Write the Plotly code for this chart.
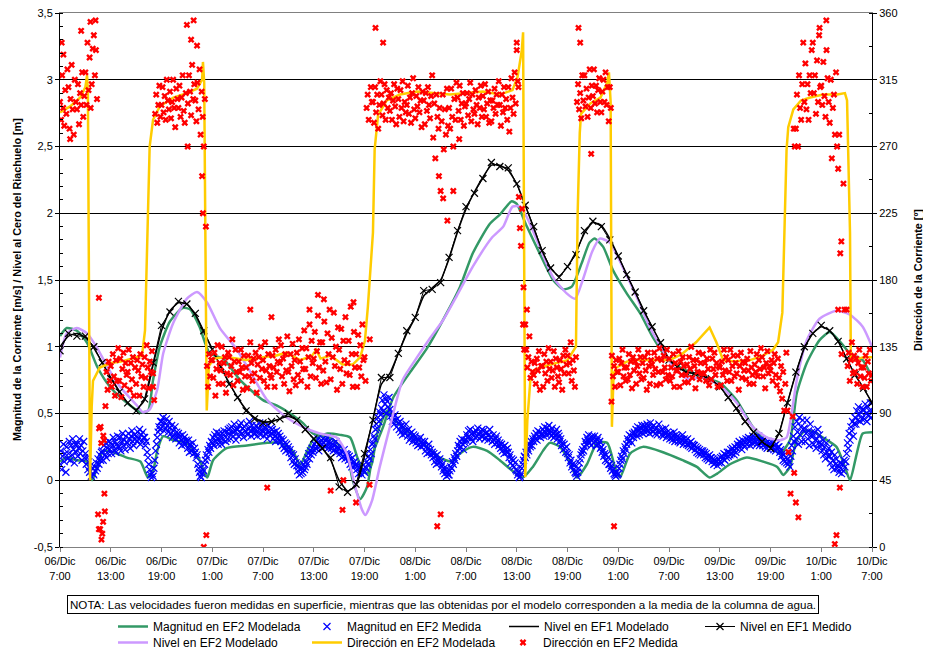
import numpy as np
import plotly.graph_objects as go

# ---------------- axis labels ----------------
x_tick_hours = list(range(0, 97, 6))
x_tick_text = ["06/Dic<br>7:00", "06/Dic<br>13:00", "06/Dic<br>19:00", "07/Dic<br>1:00",
               "07/Dic<br>7:00", "07/Dic<br>13:00", "07/Dic<br>19:00", "08/Dic<br>1:00",
               "08/Dic<br>7:00", "08/Dic<br>13:00", "08/Dic<br>19:00", "09/Dic<br>1:00",
               "09/Dic<br>7:00", "09/Dic<br>13:00", "09/Dic<br>19:00", "10/Dic<br>1:00",
               "10/Dic<br>7:00"]
left_tick_vals = [-0.5, 0, 0.5, 1, 1.5, 2, 2.5, 3, 3.5]
left_tick_text = ["-0,5", "0", "0,5", "1", "1,5", "2", "2,5", "3", "3,5"]
right_tick_vals = [0, 45, 90, 135, 180, 225, 270, 315, 360]

# ---------------- Nivel en EF1 (hourly, from 06/Dic 7:00) ----------------
nivel_ef1_med = [0.97, 1.10, 1.08, 1.08, 1.00, 0.88, 0.76, 0.66, 0.58, 0.52,
                 0.61, 0.88, 1.16, 1.26, 1.34, 1.32, 1.25, 1.12, 0.98, 0.85,
                 0.72, 0.62, 0.52, 0.46, 0.43, 0.44, 0.46, 0.50, 0.45, 0.38,
                 0.31, 0.24, 0.17, -0.05, -0.09, -0.03, 0.20, 0.45, 0.77, 0.77,
                 0.95, 1.12, 1.22, 1.42, 1.43, 1.48, 1.67, 1.87, 2.05, 2.15,
                 2.26, 2.38, 2.35, 2.34, 2.22, 2.06, 1.90, 1.72, 1.59, 1.52,
                 1.60, 1.69, 1.87, 1.94, 1.90, 1.80, 1.68, 1.54, 1.41, 1.27,
                 1.15, 1.03, 0.90, 0.85, 0.81, 0.80, 0.79, 0.76, 0.70, 0.62,
                 0.54, 0.44, 0.36, 0.29, 0.24, 0.35, 0.58, 0.81, 1.00, 1.10,
                 1.16, 1.12, 1.04, 0.91, 0.79, 0.69, 0.58]
nivel_ef1_mod = [1.00, 1.08, 1.10, 1.07, 0.99, 0.88, 0.77, 0.67, 0.58, 0.53,
                 0.60, 0.86, 1.12, 1.27, 1.33, 1.32, 1.24, 1.11, 0.98, 0.85,
                 0.73, 0.62, 0.53, 0.47, 0.44, 0.44, 0.46, 0.48, 0.45, 0.38,
                 0.31, 0.24, 0.15, 0.00, -0.08, -0.04, 0.18, 0.46, 0.72, 0.80,
                 0.95, 1.10, 1.22, 1.38, 1.44, 1.50, 1.66, 1.86, 2.03, 2.16,
                 2.27, 2.36, 2.36, 2.32, 2.22, 2.06, 1.89, 1.72, 1.59, 1.53,
                 1.60, 1.71, 1.85, 1.93, 1.91, 1.81, 1.68, 1.54, 1.41, 1.27,
                 1.15, 1.03, 0.91, 0.85, 0.81, 0.80, 0.78, 0.75, 0.70, 0.62,
                 0.53, 0.44, 0.36, 0.29, 0.25, 0.35, 0.58, 0.80, 0.99, 1.10,
                 1.15, 1.12, 1.04, 0.91, 0.79, 0.69, 0.58]
nivel_ef1_hours = list(range(len(nivel_ef1_med)))

# ---------------- Nivel en EF2 Modelado ----------------
nivel_ef2_t = [0, 0.8, 2, 3.2, 4.4, 5.6, 7.1, 9.1, 9.8, 10.6, 11.5, 12.2, 13.4, 15, 16.2,
               17.4, 18.9, 20.9, 22.7, 24.5, 26.8, 28.7, 30.7, 32.7, 33.9, 34.9, 35.7, 36.1,
               36.9, 37.8, 39, 40.5, 42.2, 43.7, 45.3, 46.9, 48.8, 51.1, 52.4, 53.5, 54.4,
               55.2, 56.7, 58.3, 59.9, 60.9, 61.8, 62.9, 63.8, 65, 66.5, 68.2, 69.7, 71.3,
               72.5, 74.1, 76, 78, 80, 81.9, 83.6, 85.1, 85.9, 86.5, 87.1, 88.3, 89.8, 91.8,
               93.4, 94.9, 96]
nivel_ef2_v = [0.92, 1.10, 1.14, 1.10, 0.99, 0.85, 0.70, 0.56, 0.51, 0.53, 0.68, 0.95, 1.18,
               1.36, 1.41, 1.33, 1.14, 0.98, 0.79, 0.60, 0.47, 0.40, 0.35, 0.32, 0.20, -0.05,
               -0.22, -0.26, -0.15, 0.10, 0.40, 0.75, 0.92, 1.06, 1.20, 1.38, 1.60, 1.82,
               1.90, 2.05, 2.05, 1.97, 1.75, 1.52, 1.40, 1.36, 1.50, 1.71, 1.81, 1.78, 1.60,
               1.37, 1.15, 0.97, 0.85, 0.76, 0.77, 0.71, 0.58, 0.40, 0.32, 0.30, 0.32, 0.50,
               0.75, 1.05, 1.21, 1.27, 1.24, 1.15, 1.00]

# ---------------- Magnitud en EF2 Modelada (green) ----------------
mag_mod_t = [0, 0.8, 2, 3.2, 3.8, 4.4, 5.1, 6.3, 7.9, 9.5, 10.4, 11, 11.5, 12.2, 13.4, 15,
             16.5, 17.4, 18.1, 19.7, 22.1, 24.5, 26, 27.5, 28.4, 29.9, 31.6, 33.1, 34.3,
             35.1, 35.8, 36.3, 36.9, 37.5, 38.7, 39.6, 41, 43.4, 44.9, 46.3, 47.3, 48.8,
             50.5, 52, 53.5, 54.7, 55.9, 57.1, 57.9, 59.1, 60.3, 61.1, 62.3, 63.5, 64.7,
             65.6, 66.2, 67.4, 68.9, 71.3, 73.6, 75.3, 76.8, 77.7, 79.2, 81.2, 83.1, 84.8,
             85.5, 86.3, 87.1, 88.1, 89.2, 90.2, 91.8, 92.8, 93.4, 94.2, 94.9, 96]
mag_mod_v = [0.14, 0.17, 0.15, 0.14, 0.00, 0.10, 0.22, 0.21, 0.17, 0.14, 0.02, 0.07, 0.22,
             0.33, 0.30, 0.28, 0.15, 0.02, 0.15, 0.24, 0.26, 0.28, 0.28, 0.22, 0.12, 0.30,
             0.35, 0.34, 0.32, 0.18, 0.07, 0.05, 0.13, 0.35, 0.52, 0.45, 0.37, 0.25, 0.17,
             0.14, 0.20, 0.25, 0.22, 0.15, 0.07, 0.02, 0.10, 0.22, 0.28, 0.25, 0.13, 0.02,
             0.12, 0.28, 0.28, 0.10, 0.02, 0.20, 0.25, 0.21, 0.15, 0.10, 0.02, 0.05, 0.12,
             0.17, 0.14, 0.10, 0.04, 0.10, 0.30, 0.37, 0.36, 0.32, 0.25, 0.10, 0.00, 0.20,
             0.35, 0.36]

# second green curve (follows the level)
green_lvl_t = [0, 0.8, 2, 3.2, 4.4, 5.9, 7.9, 9.5, 10.4, 11, 11.8, 13, 14.5, 15.4, 16.5,
               17.7, 19.3, 21.3, 24, 25.6, 27.2, 28.7, 29.9, 31.9, 33.9, 34.6, 35.5, 36.3,
               37, 38.2, 39.4, 41.4, 43.4, 45.7, 47.3, 48.8, 50.8, 52, 53.4, 54, 55.2, 56.7,
               58.3, 59.5, 60.5, 61.7, 62.6, 63.2, 64.2, 65.4, 67, 68.6, 70.1, 71.7, 72.9,
               74.5, 76, 78, 80, 81.9, 83.6, 85.1, 86.3, 87.1, 88.3, 89.8, 91, 92.2, 93.4,
               94.9, 96]
green_lvl_v = [1.08, 1.14, 1.12, 1.03, 0.85, 0.70, 0.58, 0.51, 0.52, 0.75, 1.00, 1.19, 1.29,
               1.28, 1.15, 0.95, 0.91, 0.75, 0.60, 0.56, 0.50, 0.43, 0.35, 0.32, 0.20, 0.00,
               -0.14, -0.05, 0.20, 0.40, 0.62, 0.81, 0.99, 1.25, 1.45, 1.70, 1.92, 1.99, 2.09,
               2.07, 1.90, 1.70, 1.50, 1.43, 1.45, 1.63, 1.78, 1.81, 1.75, 1.57, 1.40, 1.25,
               1.07, 0.92, 0.86, 0.81, 0.77, 0.73, 0.60, 0.40, 0.28, 0.20, 0.30, 0.65, 0.88,
               1.05, 1.11, 1.04, 0.95, 0.90, 0.77]

# ---------------- Dirección en EF2 Modelada (deg) ----------------
dir_mod_t = [0, 1.2, 2.4, 3.0, 3.2, 3.3, 3.45, 3.55, 3.75, 3.9, 4.7, 6, 7.2, 8.6, 9.7, 10.05,
             10.3, 10.6, 11.0, 11.8, 13.4, 15.0, 16.2, 16.8, 16.9, 17.05, 17.2, 17.35, 17.6,
             18.2, 19.7, 22, 24, 25.5, 26.7, 28.4, 29.8, 30.3, 30.8, 32, 33.4, 34.6, 35.5,
             36.05, 36.4, 36.8, 37.0, 37.2, 37.6, 38.6, 40.2, 42.2, 44.1, 46.1, 48.1, 50.0,
             52.0, 53.5, 54.1, 54.6, 54.75, 54.85, 55.0, 55.25, 55.6, 56.0, 56.8, 58, 60,
             61.0, 61.2, 61.45, 61.6, 62.7, 63.9, 64.7, 64.9, 65.1, 65.25, 65.45, 65.8, 67,
             68.2, 70, 72.1, 73.5, 75.2, 76.8, 77.6, 78.4, 79.6, 81.6, 83.1, 84.3, 84.9,
             85.4, 85.5, 85.6, 85.9, 86.1, 86.7, 87.6, 88.7, 90.2, 91.9, 92.8, 93.05, 93.4,
             93.5, 93.8, 95, 96]
dir_mod_v = [293, 297, 303, 310, 318, 305, 150, 45, 95, 112, 121, 124, 125, 127, 129, 146,
             200, 270, 288, 297, 303, 306, 309, 315, 327, 313, 200, 92, 122,
             127, 128, 126, 128, 129, 131, 126, 129, 133, 127, 129, 123, 123, 128,
             139, 162, 196, 212, 268, 291, 301, 305, 307, 306, 305, 306, 307,
             305, 308, 317, 335, 347, 256, 47, 85, 112, 119, 121, 123, 126,
             135, 225, 279, 292, 299, 303, 313, 320, 300, 81, 117, 121, 125,
             126, 126, 126, 130, 138, 148, 138, 126, 125, 126, 129, 133, 138,
             158, 180, 212, 268, 283, 295, 301, 303, 305, 305, 306, 301, 212,
             126, 126, 128, 128]

# ---------------- Magnitud en EF2 Medida (m/s, every 6 min; one row per hour) ----------------
mag_med_rows = [
    [.12, .22, .08, .18, .27, .14, .20, .06, .25, .16],
    [.20, .29, .15, .26, .19, .31, .23, .13, .27, .21],
    [.27, .18, .24, .31, .20, .26, .15, .22, .29, .17],
    [.20, .12, .17, .08, .14, .06, .11, .03, .09, .05],
    [.04, .10, .07, .13, .09, .16, .12, .19, .15, .21],
    [.22, .15, .26, .19, .28, .17, .24, .20, .29, .23],
    [.28, .20, .26, .32, .23, .29, .21, .27, .33, .25],
    [.25, .32, .22, .29, .35, .26, .30, .23, .33, .28],
    [.28, .35, .31, .24, .33, .37, .29, .26, .34, .31],
    [.33, .29, .36, .31, .38, .27, .34, .30, .36, .32],
    [.32, .26, .29, .21, .17, .12, .08, .04, .02, .05],
    [.03, .09, .15, .22, .27, .32, .36, .40, .38, .44],
    [.44, .40, .47, .37, .43, .39, .46, .41, .36, .44],
    [.39, .35, .41, .32, .37, .34, .40, .31, .36, .33],
    [.35, .28, .33, .30, .26, .34, .29, .32, .27, .30],
    [.29, .24, .30, .21, .27, .25, .22, .28, .20, .24],
    [.21, .17, .19, .12, .09, .06, .03, .02, .05, .08],
    [.07, .12, .15, .19, .17, .23, .21, .26, .24, .29],
    [.28, .32, .26, .34, .29, .36, .31, .27, .35, .30],
    [.32, .27, .35, .30, .37, .33, .29, .36, .31, .38],
    [.35, .39, .31, .40, .36, .33, .42, .37, .30, .38],
    [.38, .33, .41, .36, .43, .35, .39, .32, .40, .37],
    [.36, .42, .34, .39, .44, .37, .33, .41, .38, .35],
    [.38, .35, .41, .33, .39, .36, .43, .34, .40, .37],
    [.37, .33, .40, .35, .38, .31, .41, .36, .34, .39],
    [.35, .38, .31, .36, .33, .29, .37, .32, .35, .30],
    [.33, .29, .31, .26, .30, .24, .28, .22, .27, .23],
    [.25, .21, .23, .17, .20, .14, .19, .12, .16, .13],
    [.11, .07, .10, .04, .08, .05, .09, .06, .12, .08],
    [.10, .14, .12, .17, .20, .16, .22, .19, .24, .21],
    [.23, .27, .24, .29, .25, .31, .22, .28, .26, .30],
    [.27, .31, .28, .25, .30, .26, .32, .24, .29, .27],
    [.28, .24, .27, .22, .26, .23, .29, .21, .25, .24],
    [.24, .20, .22, .17, .21, .18, .23, .16, .20, .19],
    [.19, .15, .18, .12, .16, .10, .17, .13, .14, .11],
    [.12, .08, .11, .05, .09, .06, .10, .04, .08, .07],
    [.06, .10, .09, .14, .12, .18, .16, .23, .20, .27],
    [.28, .33, .31, .38, .42, .39, .47, .44, .51, .49],
    [.54, .60, .52, .64, .57, .61, .50, .59, .55, .62],
    [.53, .48, .51, .44, .47, .42, .49, .45, .40, .46],
    [.43, .38, .44, .36, .41, .34, .40, .37, .35, .42],
    [.37, .33, .38, .30, .35, .32, .36, .29, .34, .31],
    [.33, .28, .31, .26, .30, .27, .32, .25, .29, .27],
    [.26, .29, .22, .25, .20, .24, .27, .21, .23, .19],
    [.21, .17, .20, .14, .18, .12, .19, .15, .13, .16],
    [.14, .10, .12, .07, .09, .05, .08, .03, .06, .04],
    [.04, .07, .10, .09, .14, .12, .17, .15, .20, .18],
    [.22, .26, .24, .29, .25, .31, .27, .23, .30, .28],
    [.30, .34, .32, .37, .33, .38, .31, .35, .29, .36],
    [.35, .32, .37, .33, .39, .34, .31, .36, .33, .38],
    [.33, .37, .31, .35, .32, .36, .30, .34, .38, .32],
    [.32, .29, .34, .30, .27, .31, .33, .28, .30, .26],
    [.28, .24, .27, .22, .25, .20, .26, .23, .21, .24],
    [.21, .17, .19, .13, .16, .11, .15, .10, .13, .08],
    [.07, .04, .06, .02, .03, .05, .09, .12, .15, .18],
    [.17, .21, .19, .24, .22, .27, .25, .29, .26, .31],
    [.29, .33, .31, .35, .30, .37, .33, .36, .32, .34],
    [.35, .38, .33, .40, .36, .34, .39, .37, .41, .35],
    [.37, .33, .39, .35, .32, .36, .34, .38, .31, .35],
    [.33, .29, .31, .26, .28, .23, .27, .24, .21, .25],
    [.20, .17, .19, .13, .15, .10, .12, .08, .11, .06],
    [.05, .03, .06, .09, .13, .16, .19, .21, .23, .22],
    [.25, .29, .27, .32, .30, .34, .28, .31, .26, .33],
    [.31, .28, .33, .29, .26, .30, .32, .27, .29, .24],
    [.25, .21, .23, .18, .20, .15, .19, .14, .17, .12],
    [.12, .09, .11, .07, .08, .05, .04, .03, .06, .04],
    [.05, .09, .12, .15, .18, .16, .22, .20, .25, .23],
    [.27, .31, .29, .34, .30, .33, .28, .35, .32, .36],
    [.35, .38, .33, .40, .37, .34, .39, .36, .41, .35],
    [.38, .41, .36, .39, .42, .37, .40, .35, .43, .38],
    [.40, .36, .41, .38, .35, .39, .34, .37, .42, .36],
    [.37, .34, .38, .33, .36, .35, .39, .32, .36, .34],
    [.34, .31, .35, .32, .30, .33, .36, .29, .34, .32],
    [.33, .29, .32, .28, .31, .30, .34, .27, .31, .29],
    [.30, .27, .31, .26, .28, .25, .29, .24, .27, .26],
    [.26, .23, .25, .21, .24, .20, .23, .19, .22, .21],
    [.22, .19, .21, .17, .20, .16, .18, .15, .19, .17],
    [.17, .14, .16, .12, .15, .13, .14, .11, .16, .13],
    [.14, .17, .13, .18, .16, .20, .15, .19, .17, .21],
    [.18, .21, .19, .23, .20, .24, .22, .19, .25, .21],
    [.24, .27, .25, .29, .26, .28, .23, .30, .27, .25],
    [.28, .31, .27, .30, .32, .29, .26, .31, .28, .33],
    [.31, .28, .32, .29, .27, .30, .33, .26, .29, .31],
    [.29, .26, .30, .27, .25, .28, .24, .29, .26, .28],
    [.27, .24, .28, .25, .23, .26, .22, .27, .24, .25],
    [.25, .21, .23, .18, .20, .15, .19, .14, .17, .13],
    [.16, .12, .14, .10, .18, .26, .22, .33, .29, .40],
    [.31, .44, .36, .27, .47, .34, .40, .29, .45, .38],
    [.39, .29, .35, .45, .31, .37, .26, .42, .33, .36],
    [.33, .27, .36, .30, .24, .31, .38, .28, .34, .25],
    [.27, .22, .30, .19, .25, .16, .28, .21, .18, .24],
    [.18, .13, .21, .10, .15, .08, .19, .12, .16, .09],
    [.11, .06, .13, .09, .05, .12, .07, .15, .10, .14],
    [.20, .28, .24, .35, .30, .40, .37, .44, .33, .42],
    [.47, .42, .52, .45, .55, .49, .44, .51, .46, .53],
    [.53, .46, .57, .50, .44, .55, .48, .52, .58, .47],
    [.52]]
MAG_SAMPLES_PER_HOUR = 10

# ---------------- Dirección en EF2 Medida (deg, every 7.5 min; one row per hour) ----------------
dir_med_rows = [
    [300, 288, 318, 296, 284, 308, 292, 322], [310, 282, 302, 325, 295, 278, 315, 300],
    [295, 312, 285, 306, 298, 320, 290, 304], [320, 298, 340, 308, 330, 296, 312, 336],
    [345, 318, 335, 302, 22, 80, 12, 70], [9, 75, 36, 95, 118, 106, 125, 112],
    [122, 108, 130, 115, 102, 126, 112, 134], [112, 127, 101, 120, 131, 109, 124, 116],
    [118, 133, 106, 124, 113, 128, 102, 121], [110, 126, 119, 102, 130, 115, 123, 108],
    [128, 114, 136, 121, 107, 125, 118, 132], [117, 99, 292, 305, 286, 298, 311, 290],
    [298, 310, 293, 304, 288, 315, 301, 295], [307, 289, 300, 315, 296, 283, 309, 302],
    [296, 311, 290, 303, 318, 294, 286, 306], [352, 299, 318, 307, 291, 325, 302, 312],
    [301, 287, 313, 295, 322, 278, 307, 290], [270, 302, 216, 122, 108, 130, 115, 126],
    [126, 114, 131, 102, 120, 136, 110, 124], [119, 135, 110, 124, 128, 104, 117, 131],
    [128, 116, 122, 140, 109, 125, 133, 118], [112, 125, 118, 133, 121, 106, 129, 115],
    [121, 107, 129, 115, 138, 124, 112, 127], [117, 131, 104, 123, 128, 114, 135, 120],
    [126, 112, 138, 119, 108, 130, 122, 116], [114, 129, 121, 108, 133, 118, 125, 140],
    [124, 136, 115, 127, 110, 130, 119, 142], [118, 105, 130, 122, 137, 113, 126, 109],
    [131, 116, 140, 125, 112, 134, 120, 146], [120, 134, 108, 128, 150, 115, 139, 124],
    [127, 145, 114, 132, 156, 121, 138, 110], [138, 119, 152, 125, 111, 144, 130, 160],
    [113, 141, 128, 158, 122, 135, 106, 148], [133, 120, 147, 110, 139, 126, 155, 117],
    [124, 139, 116, 162, 130, 108, 145, 121], [130, 108, 143, 121, 136, 115, 150, 126],
    [128, 112, 296, 305, 288, 140, 310, 300], [300, 286, 310, 293, 305, 282, 298, 314],
    [305, 291, 299, 312, 288, 308, 296, 303], [294, 306, 288, 301, 312, 297, 285, 309],
    [302, 290, 308, 296, 314, 287, 300, 293], [298, 311, 292, 303, 286, 306, 316, 295],
    [289, 304, 297, 310, 293, 301, 283, 307], [301, 285, 306, 294, 310, 298, 289, 304],
    [318, 276, 299, 262, 305, 290, 282, 296], [240, 287, 305, 268, 295, 278, 309, 284],
    [296, 282, 309, 290, 270, 302, 288, 313], [303, 294, 311, 288, 299, 306, 284, 297],
    [299, 306, 291, 302, 313, 287, 305, 295], [292, 308, 298, 285, 303, 296, 311, 290],
    [304, 295, 312, 290, 299, 307, 286, 301], [287, 301, 296, 309, 292, 305, 298, 314],
    [298, 284, 305, 293, 310, 296, 302, 288], [310, 280, 296, 316, 303, 292, 320, 299],
    [335, 314, 236, 215, 203, 228, 150, 133], [150, 133, 121, 128, 142, 114, 125, 118],
    [116, 124, 110, 127, 119, 132, 106, 122], [122, 108, 130, 117, 125, 112, 134, 120],
    [125, 114, 119, 132, 108, 127, 121, 115], [111, 126, 120, 106, 129, 117, 133, 123],
    [129, 117, 124, 138, 112, 126, 119, 108], [128, 300, 312, 295, 306, 289, 318, 301],
    [318, 297, 309, 290, 303, 322, 296, 311], [304, 322, 299, 311, 293, 308, 316, 300],
    [293, 307, 315, 300, 320, 298, 310, 287], [310, 296, 129, 115, 122, 108, 126, 118],
    [118, 127, 109, 124, 133, 115, 121, 112], [121, 113, 130, 116, 125, 107, 128, 119],
    [125, 110, 122, 133, 117, 128, 113, 124], [114, 128, 119, 106, 131, 122, 110, 126],
    [123, 116, 131, 120, 109, 127, 118, 134], [110, 126, 118, 129, 121, 113, 133, 116],
    [127, 112, 121, 115, 130, 108, 124, 119], [119, 132, 108, 125, 116, 128, 122, 111],
    [116, 123, 111, 128, 120, 135, 114, 126], [122, 107, 126, 118, 131, 113, 124, 117],
    [130, 117, 124, 112, 127, 120, 109, 133], [113, 127, 120, 131, 116, 124, 108, 122],
    [121, 109, 125, 116, 133, 119, 128, 112], [126, 118, 133, 112, 122, 129, 115, 124],
    [117, 129, 106, 122, 131, 114, 125, 119], [124, 113, 127, 119, 110, 132, 121, 116],
    [110, 123, 118, 130, 115, 126, 120, 134], [128, 115, 121, 107, 124, 132, 117, 122],
    [119, 126, 112, 124, 130, 116, 109, 127], [114, 105, 122, 100, 118, 92, 110, 131],
    [92, 64, None, 36, None, 88, 282, 270], [282, 305, 270, 318, 296, 288, 312, 340],
    [300, 326, 295, 312, 288, 318, 306, 335], [340, 306, 318, 292, 328, 300, 345, 310],
    [311, 298, 327, 304, 290, 335, 316, 300], [286, 315, 262, 296, 305, 278, 320, 270],
    [255, 278, 198, 206, None, 245, 160, None], [160, 122, 131, 112, 126, 138, 117, 129],
    [118, 127, 110, 124, 133, 115, 121, 108], [121, 114, 129, 108, 125, 117, 133, 112],
    [116]]
DIR_SAMPLES_PER_HOUR = 8

# isolated direction readings (hour, deg)
dir_extra_t = [0.2, 0.4, 1.2, 2.5, 3.6, 4.2, 4.6, 4.9, 5.1, 5.3, 4.8, 5.2, 4.6, 15.8, 15.5,
               16.2, 16.8, 16.9, 15.1, 11.0, 17.3, 17.0, 22.5, 25.0, 29.5, 30.5, 31.2, 34.7,
               33.5, 32.0, 35.0, 24.5, 33.4, 36.6, 37.3, 38.2, 46.5, 45.3, 44.8, 47.2, 45.8,
               44.6, 45.0, 54.0, 54.2, 54.8, 55.2, 61.3, 61.5, 62.8, 65.5, 65.2, 87.0, 87.3,
               86.8, 90.6, 89.8, 92.0, 92.4, 91.6, 91.8, 92.2]
dir_extra_v = [340, 332, 275, 348, 354, 355, 12, 5, 17, 24, 81, 72, 168, 355, 342,
               338, 250, 225, 270, 108, 8, 0, 160, 155, 160, 170, 167, 165,
               45, 38, 30, 40, 25, 42, 350, 340, 240, 235, 250, 275, 220,
               14, 22, 340, 310, 175, 160, 350, 340, 265, 14, 98, 30, 20,
               50, 355, 350, 160, 130, 2, 8, 40]

# ---------------- build series ----------------
mag_med_v = [v for row in mag_med_rows for v in row]
mag_med_t = (np.arange(len(mag_med_v)) / MAG_SAMPLES_PER_HOUR).tolist()
dir_med_grid = [v for row in dir_med_rows for v in row]
dir_med_grid_t = (np.arange(len(dir_med_grid)) / DIR_SAMPLES_PER_HOUR).tolist()
dir_med_t = dir_med_grid_t + dir_extra_t
dir_med_v = dir_med_grid + dir_extra_v

FONT = "Arial, 'Liberation Sans', sans-serif"
GREEN = "#339966"
LAV = "#CC99FF"
GOLD = "#FFCC00"

fig = go.Figure()
fig.add_trace(go.Scatter(x=mag_mod_t, y=mag_mod_v, mode="lines", name="Magnitud en EF2 Modelada",
                         line=dict(color=GREEN, width=2.5, shape="spline", smoothing=0.6),
                         legend="legend"))
fig.add_trace(go.Scatter(x=green_lvl_t, y=green_lvl_v, mode="lines", name="Nivel (modelo)",
                         line=dict(color=GREEN, width=2.5, shape="spline", smoothing=0.6),
                         showlegend=False))
fig.add_trace(go.Scatter(x=mag_med_t, y=mag_med_v, mode="markers", name="Magnitud en EF2 Medida",
                         marker=dict(symbol="x-thin", size=7, color="#0000FF",
                                     line=dict(color="#0000FF", width=1.2)),
                         legend="legend2"))
fig.add_trace(go.Scatter(x=nivel_ef2_t, y=nivel_ef2_v, mode="lines", name="Nivel en EF2 Modelado",
                         line=dict(color=LAV, width=2.5, shape="spline", smoothing=0.6),
                         legend="legend5"))
fig.add_trace(go.Scatter(x=nivel_ef1_hours, y=nivel_ef1_mod, mode="lines", name="Nivel en EF1 Modelado",
                         line=dict(color="black", width=1.5, shape="spline", smoothing=0.5),
                         legend="legend3"))
fig.add_trace(go.Scatter(x=nivel_ef1_hours, y=nivel_ef1_med, mode="lines+markers",
                         name="Nivel en EF1 Medido",
                         line=dict(color="black", width=1),
                         marker=dict(symbol="x-thin", size=7, color="black",
                                     line=dict(color="black", width=1.2)),
                         legend="legend4"))
fig.add_trace(go.Scatter(x=dir_mod_t, y=dir_mod_v, mode="lines", name="Dirección en EF2 Modelada",
                         line=dict(color=GOLD, width=2.5), yaxis="y2", legend="legend6"))
fig.add_trace(go.Scatter(x=dir_med_t, y=dir_med_v, mode="markers", name="Dirección en EF2 Medida",
                         marker=dict(symbol="x", size=6, color="#FF0000", line=dict(width=0)),
                         yaxis="y2", legend="legend7"))

# The page adds an 8 px body margin, so the figure is sized to the window minus that offset.
PAGE_OFFSET = 8
W, H = 931 - PAGE_OFFSET, 652 - PAGE_OFFSET
L, R, T, B = 52, 59, 5, 105
PW, PH = W - L - R, H - T - B


def px_x(px):
    # screen x (window pixels) -> paper x
    return (px - PAGE_OFFSET - L) / PW


def px_y(py):
    # screen y (window pixels) -> paper y
    return (H - B - (py - PAGE_OFFSET)) / PH


def leg(xs, ys):
    return dict(orientation="v", yanchor="top", xanchor="left", bgcolor="rgba(0,0,0,0)",
                font=dict(family=FONT, size=12, color="black"), tracegroupgap=0,
                itemwidth=30, x=px_x(xs), y=px_y(ys))


ROW1, ROW2 = 612, 628
fig.update_layout(
    width=W, height=H,
    margin=dict(l=L, r=R, t=T, b=B, autoexpand=False),
    paper_bgcolor="white", plot_bgcolor="white",
    font=dict(family=FONT, size=11, color="black"),
    xaxis=dict(range=[0, 96], tickmode="array", tickvals=x_tick_hours, ticktext=x_tick_text,
               ticks="outside", ticklen=4, tickcolor="#808080", showgrid=False, zeroline=False,
               showline=True, linecolor="#808080", linewidth=1, mirror=True,
               tickfont=dict(size=11)),
    yaxis=dict(range=[-0.5, 3.5], tickmode="array", tickvals=left_tick_vals,
               ticktext=left_tick_text, ticks="outside", ticklen=4, tickcolor="black",
               showgrid=True, gridcolor="black", gridwidth=1, zeroline=False,
               showline=True, linecolor="black", linewidth=1, ticklabeloverflow="allow",
               minor=dict(tickmode="linear", tick0=-0.5, dtick=0.1, ticks="inside",
                          ticklen=3, tickcolor="black", showgrid=False),
               tickfont=dict(size=11)),
    yaxis2=dict(range=[0, 360], overlaying="y", side="right", tickmode="array",
                tickvals=right_tick_vals, ticks="outside", ticklen=4, tickcolor="black",
                showgrid=False, zeroline=False, showline=True, linecolor="black", linewidth=1,
                ticklabeloverflow="allow",
                minor=dict(tickmode="linear", tick0=0, dtick=22.5, ticks="inside",
                           ticklen=3, tickcolor="black", showgrid=False),
                tickfont=dict(size=11)),
    legend=leg(113, ROW1),
    legend2=leg(307, ROW1),
    legend3=leg(504, ROW1),
    legend4=leg(700, ROW1),
    legend5=leg(113, ROW2),
    legend6=leg(307, ROW2),
    legend7=leg(503, ROW2),
    showlegend=True,
)

fig.add_annotation(x=px_x(17), y=0.5, xref="paper", yref="paper", textangle=-90,
                   text="<b>Magnitud de la Corriente [m/s] / Nivel al Cero del Riachuelo [m]</b>",
                   showarrow=False, font=dict(size=10.8), xanchor="center", yanchor="middle")
fig.add_annotation(x=px_x(918), y=0.5, xref="paper", yref="paper", textangle=-90,
                   text="<b>Dirección de la Corriente [º]</b>",
                   showarrow=False, font=dict(size=10.8), xanchor="center", yanchor="middle")
fig.add_annotation(x=px_x(443), y=px_y(604.5), xref="paper", yref="paper",
                   text="NOTA: Las velocidades fueron medidas en superficie, mientras que las obtenidas por el modelo corresponden a la media de la columna de agua.",
                   showarrow=False, font=dict(size=11.6), bordercolor="black", borderwidth=1,
                   borderpad=2, bgcolor="white", xanchor="center", yanchor="middle")

fig.write_html("out.html")
